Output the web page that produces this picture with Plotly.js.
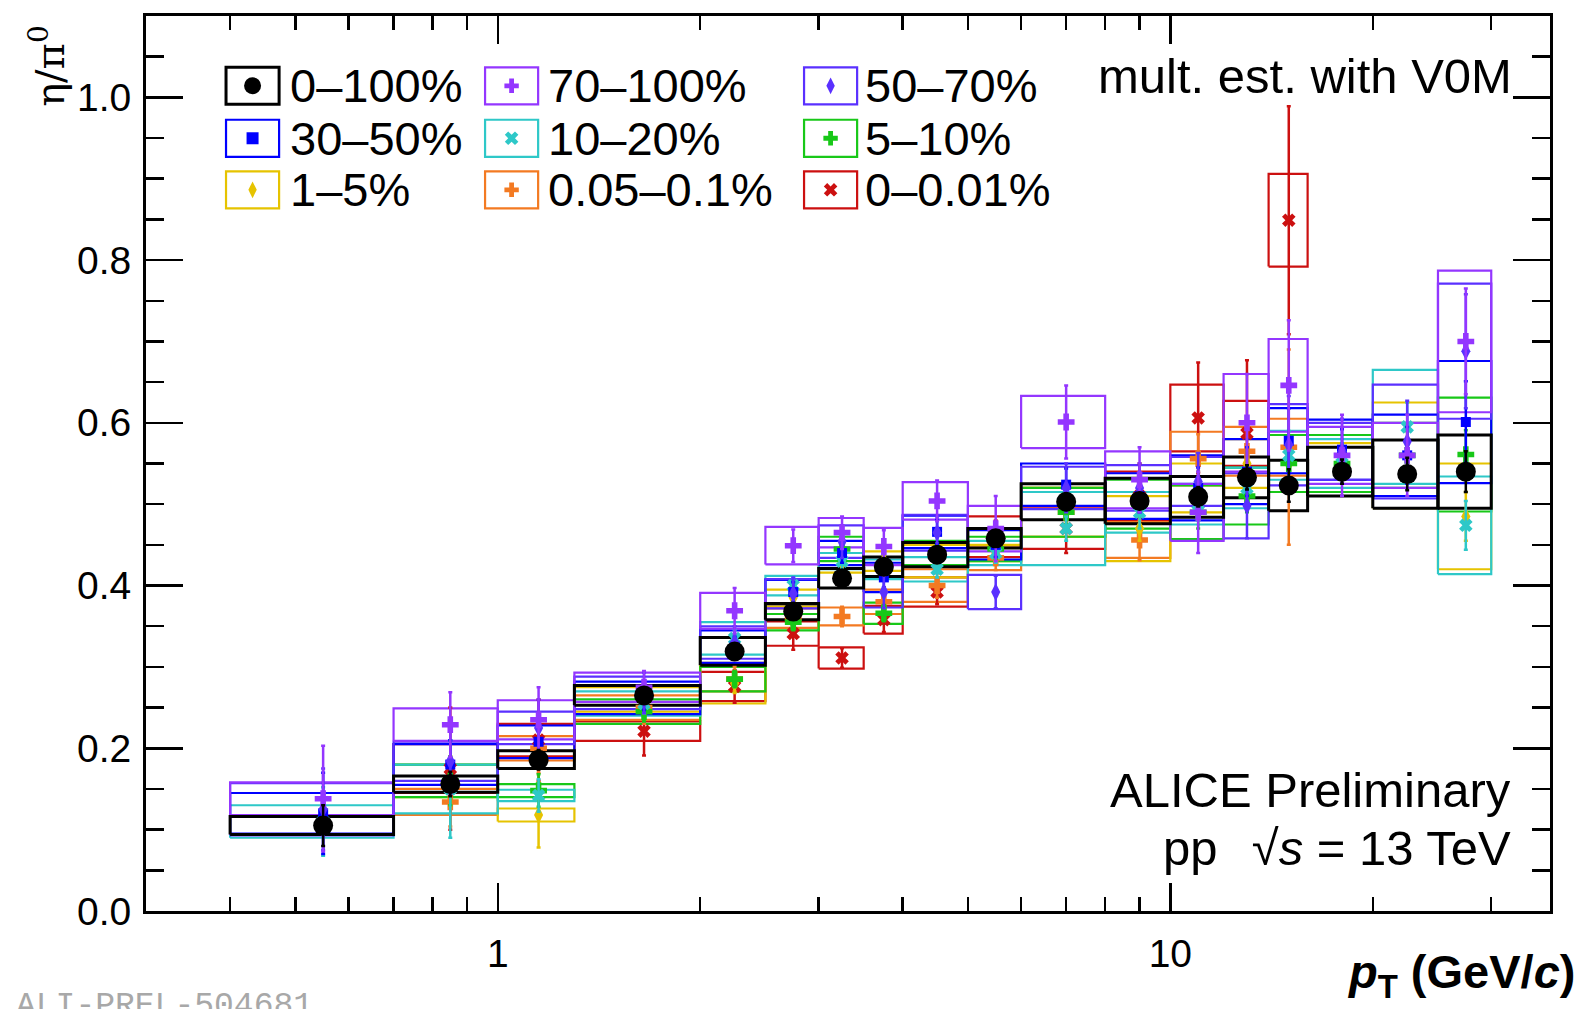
<!DOCTYPE html>
<html>
<head>
<meta charset="utf-8">
<script src="https://cdn.plot.ly/plotly-3.0.1.min.js"></script>
<style>
  html, body { margin: 0; padding: 0; background: #ffffff; }
  #chart { width: 1583px; height: 1009px; }
</style>
</head>
<body>
<div id="chart"></div>
<script>
// ---------------- DATA ----------------
const binEdges = [0.4, 0.7, 1.0, 1.3, 2.0, 2.5, 3.0, 3.5, 4.0, 5.0, 6.0, 8.0, 10, 12, 14, 16, 20, 25, 30];
const ptCenters = [0.55, 0.85, 1.15, 1.65, 2.25, 2.75, 3.25, 3.75, 4.5, 5.5, 7, 9, 11, 13, 15, 18, 22.5, 27.5];

const seriesNames = ["0–100%", "70–100%", "50–70%", "30–50%", "10–20%", "5–10%", "1–5%", "0.05–0.1%", "0–0.01%"];
const seriesColors = ["#000000", "#9436ff", "#5a30ff", "#0000ff", "#2ec8c8", "#18c818", "#e6c300", "#f37a22", "#cc1010"];
const seriesSymbols = ["circle", "cross", "diamond-tall", "square", "x", "cross", "diamond-tall", "cross", "x"];

// 0–100%
const val_0_100   = [0.105, 0.156, 0.186, 0.265, 0.319, 0.368, 0.409, 0.423, 0.438, 0.458, 0.503, 0.504, 0.509, 0.533, 0.523, 0.540, 0.537, 0.540];
const stat_0_100  = [0.025, 0.015, 0.012, 0.008, 0.008, 0.008, 0.008, 0.008, 0.008, 0.008, 0.010, 0.010, 0.012, 0.015, 0.020, 0.015, 0.020, 0.025];
const sys_0_100   = [0.011, 0.010, 0.011, 0.012, 0.017, 0.010, 0.012, 0.012, 0.015, 0.012, 0.022, 0.028, 0.025, 0.025, 0.031, 0.030, 0.042, 0.045];
// 70–100%
const val_70_100  = [0.138, 0.229, 0.235, 0.275, 0.369, 0.449, 0.465, 0.448, 0.504, 0.470, 0.601, 0.530, 0.490, 0.600, 0.646, 0.560, 0.560, 0.700];
const stat_70_100 = [0.065, 0.040, 0.040, 0.020, 0.028, 0.020, 0.020, 0.020, 0.025, 0.040, 0.045, 0.040, 0.050, 0.060, 0.080, 0.050, 0.050, 0.065];
const sys_70_100  = [0.020, 0.020, 0.024, 0.018, 0.022, 0.023, 0.018, 0.023, 0.023, 0.028, 0.032, 0.035, 0.035, 0.060, 0.057, 0.035, 0.040, 0.087];
// 50–70%
const val_50_70   = [0.125, 0.184, 0.225, 0.268, 0.330, 0.390, 0.454, 0.392, 0.465, 0.392, 0.520, 0.520, 0.528, 0.498, 0.573, 0.565, 0.577, 0.688];
const stat_50_70  = [0.050, 0.040, 0.035, 0.025, 0.020, 0.020, 0.020, 0.020, 0.020, 0.020, 0.030, 0.030, 0.035, 0.040, 0.060, 0.040, 0.050, 0.070];
const sys_50_70   = [0.032, 0.024, 0.020, 0.020, 0.020, 0.018, 0.020, 0.019, 0.022, 0.021, 0.026, 0.028, 0.030, 0.040, 0.050, 0.035, 0.070, 0.083];
// 30–50%
const val_30_50   = [0.120, 0.180, 0.208, 0.262, 0.325, 0.392, 0.440, 0.410, 0.466, 0.450, 0.524, 0.510, 0.520, 0.540, 0.578, 0.567, 0.560, 0.601];
const stat_30_50  = [0.050, 0.030, 0.025, 0.015, 0.012, 0.012, 0.012, 0.012, 0.015, 0.015, 0.020, 0.020, 0.025, 0.030, 0.040, 0.025, 0.035, 0.050];
const sys_30_50   = [0.025, 0.025, 0.020, 0.020, 0.020, 0.015, 0.015, 0.018, 0.020, 0.018, 0.026, 0.028, 0.040, 0.040, 0.040, 0.037, 0.050, 0.075];
// 10–20%
const val_10_20   = [0.110, 0.150, 0.142, 0.255, 0.335, 0.400, 0.430, 0.420, 0.420, 0.440, 0.470, 0.490, 0.500, 0.520, 0.560, 0.550, 0.595, 0.474];
const stat_10_20  = [0.042, 0.060, 0.020, 0.012, 0.010, 0.010, 0.010, 0.010, 0.010, 0.012, 0.015, 0.020, 0.020, 0.025, 0.030, 0.025, 0.030, 0.030];
const sys_10_20   = [0.020, 0.030, 0.007, 0.015, 0.020, 0.012, 0.010, 0.012, 0.015, 0.015, 0.045, 0.025, 0.025, 0.025, 0.030, 0.030, 0.070, 0.060];
// 5–10%
const val_5_10    = [null, 0.160, 0.148, 0.245, 0.285, 0.355, 0.445, 0.366, 0.440, 0.445, 0.490, 0.500, 0.490, 0.510, 0.550, 0.550, 0.560, 0.561];
const stat_5_10   = [null, 0.030, 0.020, 0.012, 0.010, 0.010, 0.010, 0.010, 0.012, 0.012, 0.015, 0.015, 0.020, 0.020, 0.030, 0.020, 0.030, 0.030];
const sys_5_10    = [null, 0.020, 0.008, 0.015, 0.015, 0.010, 0.015, 0.013, 0.015, 0.015, 0.030, 0.030, 0.033, 0.035, 0.035, 0.035, 0.040, 0.070];
// 1–5%
const val_1_5     = [null, 0.160, 0.118, 0.260, 0.280, 0.385, 0.428, 0.430, 0.430, 0.440, 0.490, 0.470, 0.520, 0.550, 0.550, 0.545, 0.560, 0.485];
const stat_1_5    = [null, 0.030, 0.040, 0.012, 0.012, 0.010, 0.010, 0.010, 0.010, 0.012, 0.015, 0.015, 0.020, 0.020, 0.030, 0.020, 0.030, 0.030];
const sys_1_5     = [null, 0.020, 0.008, 0.015, 0.025, 0.010, 0.012, 0.012, 0.020, 0.010, 0.030, 0.040, 0.030, 0.030, 0.035, 0.030, 0.065, 0.065];
// 0.05–0.1%
const val_005_01  = [null, 0.134, 0.200, 0.250, 0.285, 0.360, 0.362, 0.380, 0.400, 0.434, 0.490, 0.456, 0.556, 0.565, 0.570, null, null, null];
const stat_005_01 = [null, 0.030, 0.030, 0.020, 0.015, 0.012, 0.012, 0.012, 0.015, 0.015, 0.020, 0.025, 0.030, 0.035, 0.120, null, null, null];
const sys_005_01  = [null, 0.016, 0.015, 0.015, 0.015, 0.012, 0.011, 0.015, 0.020, 0.015, 0.030, 0.022, 0.033, 0.030, 0.035, null, null, null];
// 0–0.01%
const val_0_001   = [null, 0.175, 0.210, 0.221, 0.276, 0.341, 0.311, 0.358, 0.392, 0.460, 0.470, 0.510, 0.606, 0.587, 0.849, null, null, null];
const stat_0_001  = [null, 0.075, 0.050, 0.030, 0.020, 0.020, 0.012, 0.015, 0.015, 0.020, 0.030, 0.040, 0.068, 0.090, 0.140, null, null, null];
const sys_0_001   = [null, 0.030, 0.020, 0.012, 0.018, 0.015, 0.013, 0.017, 0.018, 0.025, 0.025, 0.030, 0.041, 0.040, 0.057, null, null, null];

const allVals = [val_0_100, val_70_100, val_50_70, val_30_50, val_10_20, val_5_10, val_1_5, val_005_01, val_0_001];
const allStat = [stat_0_100, stat_70_100, stat_50_70, stat_30_50, stat_10_20, stat_5_10, stat_1_5, stat_005_01, stat_0_001];
const allSys  = [sys_0_100, sys_70_100, sys_50_70, sys_30_50, sys_10_20, sys_5_10, sys_1_5, sys_005_01, sys_0_001];

const xTickLabels = ["1", "10"];
const xTickVals = [1, 10];
const xMinorVals = [0.4, 0.5, 0.6, 0.7, 0.8, 0.9, 2, 3, 4, 5, 6, 7, 8, 9, 20, 30];

// ---------------- STYLE / LAYOUT CONSTANTS ----------------
const FONT = "Liberation Sans, Arial, Helvetica, sans-serif";
const markerSizes = [20, 14, 13, 10, 12, 14, 13, 14, 12];

// legend layout (fractions of plot area)
const legColCenters = [0.0759, 0.2604, 0.4876];
const legColText = [0.1012, 0.2850, 0.5108];
const legRows = [0.922, 0.8634, 0.8058];
const legHalfW = 0.0189, legHalfH = 0.0207;

// ---------------- TRACES ----------------
const traces = [];
const drawOrder = [8, 7, 6, 5, 4, 3, 2, 1, 0];

// systematic boxes
drawOrder.forEach(function (s) {
  const bx = [], by = [];
  allVals[s].forEach(function (v, i) {
    if (v === null) return;
    const lo = binEdges[i], hi = binEdges[i + 1], e = allSys[s][i];
    bx.push(lo, hi, hi, lo, lo, null);
    by.push(v - e, v - e, v + e, v + e, v - e, null);
  });
  traces.push({
    type: "scatter", mode: "lines", x: bx, y: by,
    line: { color: seriesColors[s], width: s === 0 ? 3 : 2.2 },
    hoverinfo: "skip", showlegend: false
  });
});

// points with statistical errors
drawOrder.forEach(function (s) {
  traces.push({
    type: "scatter", mode: "markers",
    x: ptCenters, y: allVals[s],
    error_y: { type: "data", array: allStat[s], visible: true, color: seriesColors[s], thickness: 2.5, width: 2 },
    marker: { symbol: seriesSymbols[s], size: markerSizes[s], color: seriesColors[s], line: { width: 0 } },
    name: seriesNames[s], showlegend: false
  });
});

// legend markers (overlay axes in plot fractions)
const shapes = [];
const annotations = [];
seriesNames.forEach(function (name, s) {
  const col = s % 3, row = Math.floor(s / 3);
  traces.push({
    type: "scatter", mode: "markers", xaxis: "x2", yaxis: "y2",
    x: [legColCenters[col]], y: [legRows[row]],
    marker: { symbol: seriesSymbols[s], size: s === 0 ? 17 : 12, color: seriesColors[s], line: { width: 0 } },
    hoverinfo: "skip", showlegend: false
  });
  shapes.push({
    type: "rect", xref: "paper", yref: "paper",
    x0: legColCenters[col] - legHalfW, x1: legColCenters[col] + legHalfW,
    y0: legRows[row] - legHalfH, y1: legRows[row] + legHalfH,
    line: { color: seriesColors[s], width: s === 0 ? 3 : 2.2 }, fillcolor: "rgba(0,0,0,0)"
  });
  annotations.push({
    xref: "paper", yref: "paper", x: legColText[col], y: legRows[row],
    xanchor: "left", yanchor: "middle", showarrow: false,
    text: name, font: { family: FONT, size: 47, color: "#000" }
  });
});

annotations.push(
  { xref: "paper", yref: "paper", x: 0.9746, y: 0.933, xanchor: "right", yanchor: "middle", showarrow: false,
    text: "mult. est. with V0M", font: { family: FONT, size: 49, color: "#000" } },
  { xref: "paper", yref: "paper", x: 0.9735, y: 0.1352, xanchor: "right", yanchor: "middle", showarrow: false,
    text: "ALICE Preliminary", font: { family: FONT, size: 49, color: "#000" } },
  { xref: "paper", yref: "paper", x: 0.9735, y: 0.070, xanchor: "right", yanchor: "middle", showarrow: false,
    text: "pp\u2002\u2009√<i>s</i> = 13 TeV", font: { family: FONT, size: 49, color: "#000" } },
  { xref: "paper", yref: "paper", x: 1.0195, y: -0.0715, xanchor: "right", yanchor: "middle", showarrow: false,
    text: "<b><i>p</i><sub>T</sub> (GeV/<i>c</i>)</b>", font: { family: FONT, size: 47, color: "#000" } },
  { xref: "paper", yref: "paper", x: -0.070, y: 0.944, xanchor: "center", yanchor: "middle", showarrow: false,
    textangle: -90, text: "η/π<sup>0</sup>", font: { family: "DejaVu Serif, Liberation Serif, serif", size: 40, color: "#000" } },
  { xref: "paper", yref: "paper", x: -0.094, y: -0.107, xanchor: "left", yanchor: "middle", showarrow: false,
    text: "ALI-PREL-504681", font: { family: "Liberation Mono, DejaVu Sans Mono, monospace", size: 33, color: "#a8a8a8" } }
);

const layout = {
  width: 1583, height: 1009,
  margin: { l: 146, r: 33, t: 16, b: 98, pad: 0 },
  paper_bgcolor: "#ffffff", plot_bgcolor: "#ffffff",
  showlegend: false,
  font: { family: FONT, color: "#000" },
  xaxis: {
    type: "log", range: [-0.523, 1.5645],
    showgrid: false, zeroline: false,
    showline: true, linecolor: "#000", linewidth: 3, mirror: "allticks",
    ticks: "inside", ticklen: 28, tickwidth: 2.5, tickcolor: "#000",
    tickmode: "array", tickvals: xTickVals, ticktext: xTickLabels,
    tickfont: { family: FONT, size: 39, color: "#000" },
    ticklabelstandoff: 6,
    minor: { tickmode: "array", tickvals: xMinorVals, ticks: "inside", ticklen: 14, tickwidth: 2.5, tickcolor: "#000", showgrid: false }
  },
  yaxis: {
    range: [0, 1.1], showgrid: false, zeroline: false,
    showline: true, linecolor: "#000", linewidth: 3, mirror: "allticks",
    ticks: "inside", ticklen: 37, tickwidth: 2.5, tickcolor: "#000",
    tickmode: "linear", tick0: 0, dtick: 0.2, tickformat: ".1f",
    tickfont: { family: FONT, size: 39, color: "#000" },
    ticklabelstandoff: 4,
    minor: { tickmode: "linear", tick0: 0, dtick: 0.05, ticks: "inside", ticklen: 18, tickwidth: 2.5, tickcolor: "#000", showgrid: false }
  },
  xaxis2: { overlaying: "x", range: [0, 1], visible: false, fixedrange: true },
  yaxis2: { overlaying: "y", range: [0, 1], visible: false, fixedrange: true },
  shapes: shapes,
  annotations: annotations
};

Plotly.newPlot("chart", traces, layout, { staticPlot: true, displayModeBar: false });
</script>
</body>
</html>
